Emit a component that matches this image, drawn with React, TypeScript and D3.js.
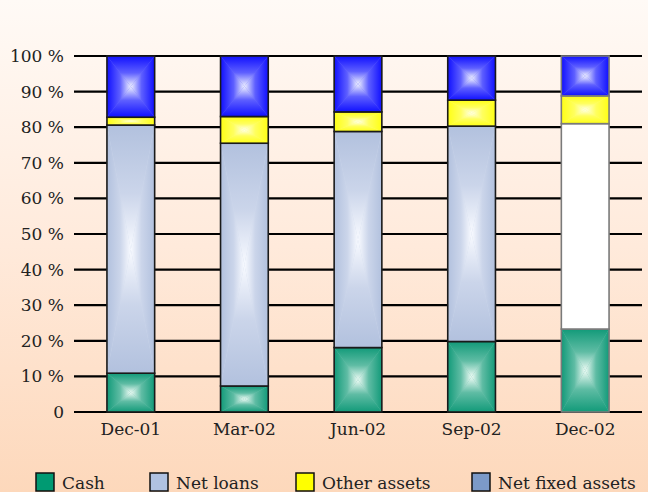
import React from "react";
import * as d3 from "d3";

// Quarter-end balance sheet composition, in percent of total assets
const quarters = ["Dec-01", "Mar-02", "Jun-02", "Sep-02", "Dec-02"];
const cash = [10.9, 7.3, 18.1, 19.8, 23.3];
const netLoans = [69.7, 68.2, 60.7, 60.5, 57.7];
const otherAssets = [2.2, 7.5, 5.5, 7.3, 7.8];
const investments = [17.2, 17.0, 15.7, 12.4, 11.2];
const yTicks = [0, 10, 20, 30, 40, 50, 60, 70, 80, 90, 100];
const legendLabels = ["Cash", "Net loans", "Other assets", "Net fixed assets"];

const W = 648;
const H = 492;
const FONT = "'DejaVu Serif', serif";

type Key = "cash" | "netLoans" | "otherAssets" | "investments";
const keys: Key[] = ["cash", "netLoans", "otherAssets", "investments"];

// Edge/centre colours of the box ("from centre") gradient fills
const fills: Record<Key, { edge: string; center: string }> = {
  cash: { edge: "#129a79", center: "#eefbf5" },
  netLoans: { edge: "#b2c1de", center: "#f8faff" },
  otherAssets: { edge: "#ffff14", center: "#ffffea" },
  investments: { edge: "#1010ff", center: "#f0f2ff" },
};
const legendColors = ["#009a72", "#b0c2e2", "#ffff00", "#7c9ac8"];

// The last quarter's loans are drawn in flat white with grey outlines
const flatQuarter = "Dec-02";

const rows = quarters.map((q, i) => ({
  quarter: q,
  cash: cash[i],
  netLoans: netLoans[i],
  otherAssets: otherAssets[i],
  investments: investments[i],
}));

const stacked = d3.stack<any, Key>().keys(keys)(rows);

const x = d3
  .scaleBand<string>()
  .domain(quarters)
  .range([74, 642])
  .paddingInner(0.58)
  .paddingOuter(0.29);
const y = d3.scaleLinear().domain([0, 100]).range([412, 56]);

const dirs = [
  { id: "t", x1: 0, y1: 0, x2: 0, y2: 1 },
  { id: "b", x1: 0, y1: 1, x2: 0, y2: 0 },
  { id: "l", x1: 0, y1: 0, x2: 1, y2: 0 },
  { id: "r", x1: 1, y1: 0, x2: 0, y2: 0 },
];

function BoxGradientRect({
  k,
  x0,
  y0,
  w,
  h,
}: {
  k: Key;
  x0: number;
  y0: number;
  w: number;
  h: number;
}) {
  const x1 = x0 + w;
  const y1 = y0 + h;
  const cx = x0 + w / 2;
  const cy = y0 + h / 2;
  const tri = (pts: number[][]) => pts.map((p) => p.join(",")).join(" ");
  const base = d3.interpolateRgb(fills[k].edge, fills[k].center)(0.4);
  return (
    <g>
      {/* underlay hides anti-aliasing seams between the triangles */}
      <rect x={x0} y={y0} width={w} height={h} fill={base} />
      <polygon points={tri([[x0, y0], [x1, y0], [cx, cy]])} fill={`url(#g-${k}-t)`} />
      <polygon points={tri([[x0, y1], [x1, y1], [cx, cy]])} fill={`url(#g-${k}-b)`} />
      <polygon points={tri([[x0, y0], [x0, y1], [cx, cy]])} fill={`url(#g-${k}-l)`} />
      <polygon points={tri([[x1, y0], [x1, y1], [cx, cy]])} fill={`url(#g-${k}-r)`} />
    </g>
  );
}

export default function App() {
  const bw = x.bandwidth();
  const legendX = [36, 150, 296, 472];
  return (
    <svg
      width={W}
      height={H}
      style={{ position: "absolute", left: 0, top: 0, display: "block" }}
      fontFamily={FONT}
    >
      <defs>
        <linearGradient id="bg" x1="0" y1="0" x2="0" y2="1">
          <stop offset="0" stopColor="#fffaf6" />
          <stop offset="0.5" stopColor="#ffeadb" />
          <stop offset="1" stopColor="#fdd8bb" />
        </linearGradient>
        {keys.map((k) =>
          dirs.map((d) => (
            <linearGradient
              key={`${k}-${d.id}`}
              id={`g-${k}-${d.id}`}
              x1={d.x1}
              y1={d.y1}
              x2={d.x2}
              y2={d.y2}
            >
              <stop offset="0" stopColor={fills[k].edge} />
              <stop
                offset="0.55"
                stopColor={d3.interpolateRgb(fills[k].edge, fills[k].center)(0.35)}
              />
              <stop offset="1" stopColor={fills[k].center} />
            </linearGradient>
          ))
        )}
      </defs>

      <rect x={0} y={0} width={W} height={H} fill="url(#bg)" />

      {/* gridlines */}
      {yTicks.map((t) => (
        <line
          key={t}
          x1={74}
          x2={642}
          y1={y(t)}
          y2={y(t)}
          stroke="#000"
          strokeWidth={2.2}
        />
      ))}

      {/* y tick labels */}
      {yTicks.map((t) => (
        <text
          key={t}
          x={64}
          y={y(t) + 6}
          textAnchor="end"
          fontSize={17}
          fill="#222"
        >
          {t === 0 ? "0" : `${t} %`}
        </text>
      ))}

      {/* stacked bars */}
      {stacked.map((series) => {
        const k = series.key as Key;
        return (
          <g key={k}>
            {series.map((seg, i) => {
              const q = quarters[i];
              const x0 = x(q)!;
              const top = y(seg[1]);
              const h = y(seg[0]) - top;
              const flat = q === flatQuarter;
              const stroke = flat ? "#7a7a7a" : "#1a1a1a";
              return (
                <g key={q}>
                  {flat && k === "netLoans" ? (
                    <rect x={x0} y={top} width={bw} height={h} fill="#ffffff" />
                  ) : (
                    <BoxGradientRect k={k} x0={x0} y0={top} w={bw} h={h} />
                  )}
                  <rect
                    x={x0}
                    y={top}
                    width={bw}
                    height={h}
                    fill="none"
                    stroke={stroke}
                    strokeWidth={1.6}
                  />
                </g>
              );
            })}
          </g>
        );
      })}

      {/* x labels */}
      {quarters.map((q) => (
        <text
          key={q}
          x={x(q)! + bw / 2}
          y={435}
          textAnchor="middle"
          fontSize={17}
          fill="#222"
        >
          {q}
        </text>
      ))}

      {/* legend */}
      {legendLabels.map((lab, i) => (
        <g key={lab}>
          <rect
            x={legendX[i]}
            y={473}
            width={18}
            height={18}
            fill={legendColors[i]}
            stroke="#111"
            strokeWidth={1.5}
          />
          <text x={legendX[i] + 26} y={489} fontSize={17} fill="#222">
            {lab}
          </text>
        </g>
      ))}
    </svg>
  );
}
